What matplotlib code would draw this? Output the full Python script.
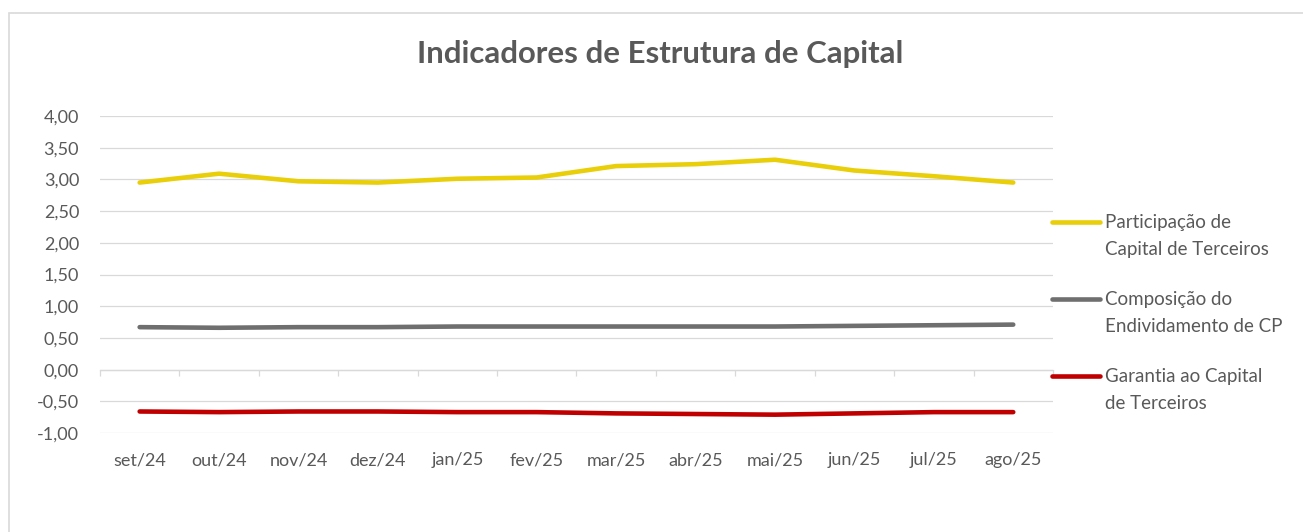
import numpy as np
from matplotlib import pyplot as plt
from matplotlib.lines import Line2D
from matplotlib.patches import Rectangle
from matplotlib.ticker import FuncFormatter

# dados
meses = ['set/24', 'out/24', 'nov/24', 'dez/24', 'jan/25', 'fev/25',
         'mar/25', 'abr/25', 'mai/25', 'jun/25', 'jul/25', 'ago/25']
part_capital_terceiros = [2.95, 3.09, 2.97, 2.95, 3.01, 3.03, 3.21, 3.24, 3.31, 3.14, 3.05, 2.95]
composicao_endividamento = [0.67, 0.66, 0.67, 0.67, 0.68, 0.68, 0.68, 0.68, 0.68, 0.69, 0.70, 0.71]
garantia_capital_terceiros = [-0.66, -0.67, -0.66, -0.66, -0.67, -0.67, -0.69, -0.70, -0.71, -0.69, -0.67, -0.67]

series = [
    ('Participação de\nCapital de Terceiros', part_capital_terceiros, '#e8cf0a'),
    ('Composição do\nEndividamento de CP', composicao_endividamento, '#6f6f6f'),
    ('Garantia ao Capital\nde Terceiros', garantia_capital_terceiros, '#c00000'),
]

plt.rcParams['font.family'] = ['Lato', 'DejaVu Sans']
txt_cor = '#595959'
grid_cor = '#d9d9d9'

fig = plt.figure(figsize=(13.03, 5.32), dpi=100)
ax = fig.add_axes([0.0767, 0.186, 0.7314, 0.596])

x = np.arange(len(meses))
for nome, vals, cor in series:
    ax.plot(x, vals, color=cor, lw=3.3, solid_capstyle='round', solid_joinstyle='round', zorder=3)

ax.set_xlim(-0.5, len(meses) - 0.5)
ax.set_ylim(-1, 4)
ax.set_yticks(np.arange(-1, 4.01, 0.5))
ax.yaxis.set_major_formatter(FuncFormatter(lambda v, p: f'{v:.2f}'.replace('.', ',')))
ax.set_xticks(x)
ax.set_xticklabels(meses)
ax.tick_params(axis='both', length=0, colors=txt_cor, labelsize=13)
ax.tick_params(axis='y', pad=15)
ax.tick_params(axis='x', pad=14)
ax.grid(axis='y', color=grid_cor, lw=0.9)
ax.set_axisbelow(True)
for s in ax.spines.values():
    s.set_visible(False)

# eixo de categorias cruzando no zero, com marcas entre os meses
eixo0 = ax.secondary_xaxis(0, transform=ax.transData)
eixo0.set_xticks(np.arange(-0.5, len(meses), 1))
eixo0.set_xticklabels([])
eixo0.tick_params(axis='x', direction='out', length=4.5, width=0.9, color=grid_cor)
eixo0.spines['bottom'].set_color(grid_cor)
eixo0.spines['bottom'].set_linewidth(0.9)

fig.text(0.5065, 1 - 54 / 532, 'Indicadores de Estrutura de Capital', ha='center', va='center',
         fontsize=22.4, fontweight='bold', color=txt_cor)

# legenda à direita (linha alinhada com a primeira linha do texto)
leg_y = [222, 299, 376]
for (nome, vals, cor), yy in zip(series, leg_y):
    fig.add_artist(Line2D([1052 / 1303, 1100 / 1303], [1 - yy / 532] * 2, color=cor, lw=3.3,
                          solid_capstyle='round', transform=fig.transFigure))
    # va='baseline' usa a linha de base da última linha
    fig.text(1105 / 1303, 1 - (yy + 6 + 27) / 532, nome, ha='left', va='baseline', fontsize=13.5,
             color=txt_cor, linespacing=1.71)

# borda da área do gráfico
fig.add_artist(Rectangle((9 / 1303, -0.1), 1.1, 1.1 - 13 / 532, transform=fig.transFigure,
                         fill=False, edgecolor=grid_cor, lw=1.2))

fig.savefig('out.png', dpi=100, facecolor='white')
